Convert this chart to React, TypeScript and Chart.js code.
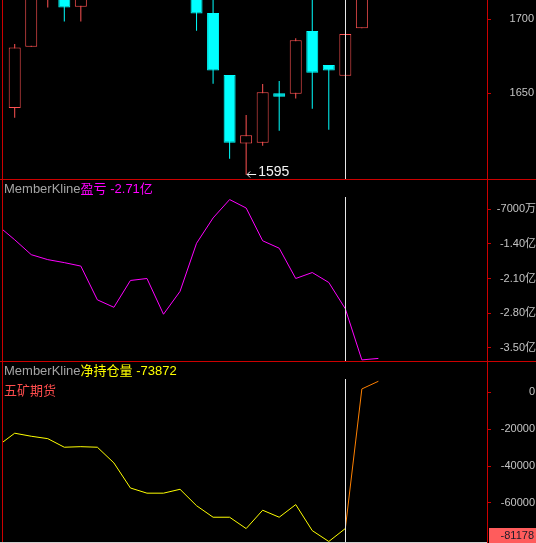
import React, { useEffect, useRef } from "react";
import { Chart, registerables } from "chart.js";

Chart.register(...registerables);

// ---------------- data ----------------
const CANDLE_X = [0, 1, 2, 3, 4, 5, 6, 7, 8, 9, 10, 11, 12, 13, 14, 15, 16, 17, 18, 19, 20, 21, 22];
const OPEN = [1640.0, 1681.5, 1716.0, 1722.0, 1708.5, 1724.0, 1740.0, 1735.0, 1755.0, 1742.0, 1733.0, 1722.0, 1704.3, 1662.4, 1616.0, 1616.6, 1650.0, 1649.7, 1692.1, 1669.1, 1661.9, 1693.9, 1722.0];
const HIGH = [1683.3, 1735.0, 1738.0, 1726.0, 1730.0, 1745.0, 1752.0, 1760.0, 1765.0, 1750.0, 1738.0, 1728.0, 1716.0, 1662.4, 1635.3, 1656.3, 1658.3, 1687.2, 1716.0, 1669.1, 1690.1, 1728.0, 1735.0];
const LOW = [1633.5, 1681.5, 1708.0, 1698.4, 1698.4, 1718.0, 1730.0, 1728.0, 1738.0, 1726.0, 1714.0, 1692.3, 1656.5, 1605.8, 1595.0, 1614.6, 1624.7, 1646.4, 1639.6, 1625.4, 1661.9, 1693.9, 1716.0];
const CLOSE = [1681.0, 1728.0, 1732.0, 1708.0, 1724.0, 1740.0, 1735.0, 1755.0, 1742.0, 1733.0, 1720.0, 1703.8, 1665.3, 1616.6, 1621.6, 1650.7, 1647.7, 1685.8, 1663.9, 1665.3, 1690.1, 1722.0, 1730.0];

const LINE_X = [-1, 0, 1, 2, 3, 4, 5, 6, 7, 8, 9, 10, 11, 12, 13, 14, 15, 16, 17, 18, 19, 20, 21, 22];
// 盈亏 (亿)
const PROFIT = [-1.04, -1.32, -1.62, -1.72, -1.78, -1.85, -2.53, -2.68, -2.14, -2.10, -2.82, -2.36, -1.39, -0.88, -0.51, -0.68, -1.34, -1.49, -2.10, -1.98, -2.18, -2.71, -3.74, -3.71];
// 净持仓量
const NETPOS = [-28900, -22200, -23850, -25150, -29800, -29500, -29800, -38300, -51900, -54700, -54700, -52600, -61500, -67750, -67750, -73900, -63950, -67750, -60900, -75000, -80900, -73872, 1800, 5960];

const CROSS_INDEX = 20;

const X_MIN = -0.708;
const X_MAX = 28.57;

const P1_MIN = 1592.1;
const P1_MAX = 1713.0;
const P1_TICKS = [1650, 1700];
const P1_LABELS = ["1650", "1700"];

const P2_MIN = -3.762;
const P2_MAX = -0.0956;
const P2_TICKS = [-0.7, -1.4, -2.1, -2.8, -3.5];
const P2_LABELS = ["-7000万", "-1.40亿", "-2.10亿", "-2.80亿", "-3.50亿"];

const P3_MIN = -81178;
const P3_MAX = 16950;
const P3_TICKS = [0, -20000, -40000, -60000];
const P3_LABELS = ["0", "-20000", "-40000", "-60000"];

// ---------------- styles ----------------
const CANVAS_W = 540;
const PLOT_RIGHT = 487;
const RED_LINE = "#cc0000";
const UP = "#ff5252";
const DOWN = "#00ffff";
const MAGENTA = "#ff00ff";
const YELLOW = "#ffff00";
const ORANGE = "#ff8000";
const TICK_COLOR = "#c4c4c4";
const CROSS_COLOR = "#e8e8e8";
const FONT = "'Liberation Sans', 'Noto Sans CJK SC', sans-serif";

function xScale() {
  return { type: "linear", display: false, min: X_MIN, max: X_MAX, offset: false, grid: { display: false } };
}

function yAxis(min: number, max: number, values: number[], labels: string[], labelRight: number) {
  return {
    type: "linear",
    position: "right",
    min,
    max,
    bounds: "data",
    beginAtZero: false,
    afterBuildTicks: (s: any) => {
      s.ticks = values.map((v) => ({ value: v }));
    },
    afterFit: (s: any) => {
      s.width = labelRight - PLOT_RIGHT;
      s.paddingTop = 0;
      s.paddingBottom = 0;
    },
    border: { display: true, color: RED_LINE, width: 1 },
    grid: { display: true, drawOnChartArea: false, drawTicks: true, tickLength: 4, color: RED_LINE },
    ticks: {
      color: TICK_COLOR,
      font: { family: FONT, size: 11 },
      padding: 4,
      crossAlign: "far",
      autoSkip: false,
      callback: (_v: any, i: number) => labels[i],
    },
  };
}

function common(bottomPad: number, labelRight: number) {
  return {
    responsive: false,
    animation: false,
    events: [],
    plugins: { legend: { display: false }, tooltip: { enabled: false } },
    layout: { padding: { left: 3, right: CANVAS_W - labelRight, top: 0, bottom: bottomPad } },
  };
}

function crosshair(topOffset: number) {
  return {
    id: "crosshair",
    afterDatasetsDraw(chart: any) {
      const { ctx, chartArea } = chart;
      const x = Math.round(chart.scales.x.getPixelForValue(CROSS_INDEX)) + 0.5;
      ctx.save();
      ctx.strokeStyle = CROSS_COLOR;
      ctx.lineWidth = 1;
      ctx.beginPath();
      ctx.moveTo(x, chartArea.top + topOffset);
      ctx.lineTo(x, chartArea.bottom);
      ctx.stroke();
      ctx.restore();
    },
  };
}

const lowMarker = {
  id: "lowMarker",
  afterDatasetsDraw(chart: any) {
    const xs = chart.scales.x;
    const ys = chart.scales.y;
    let idx = -1;
    CANDLE_X.forEach((x, i) => {
      if (x >= xs.min && x <= xs.max && (idx < 0 || LOW[i] < LOW[idx])) idx = i;
    });
    if (idx < 0) return;
    const px = xs.getPixelForValue(CANDLE_X[idx]);
    const py = ys.getPixelForValue(LOW[idx]);
    const { ctx } = chart;
    const y = Math.round(py) - 0.5;
    ctx.save();
    ctx.strokeStyle = "#f4f4f4";
    ctx.lineWidth = 1;
    ctx.beginPath();
    ctx.moveTo(px + 1, y);
    ctx.lineTo(px + 10, y);
    ctx.moveTo(px + 1, y);
    ctx.lineTo(px + 4, y - 3);
    ctx.moveTo(px + 1, y);
    ctx.lineTo(px + 4, y + 3);
    ctx.stroke();
    ctx.fillStyle = "#f4f4f4";
    ctx.font = `14px ${FONT}`;
    ctx.textBaseline = "middle";
    ctx.textAlign = "left";
    ctx.fillText(String(LOW[idx]), px + 12, py - 3);
    ctx.restore();
  },
};

const minBox = {
  id: "minBox",
  afterDraw(chart: any) {
    const { ctx, chartArea } = chart;
    const x0 = chartArea.right + 2;
    const y0 = chartArea.bottom - 14;
    ctx.save();
    ctx.fillStyle = "#ff5c5c";
    ctx.fillRect(x0, y0, chart.width - x0, chart.height - y0);
    ctx.fillStyle = "#1c1c28";
    ctx.font = `11px ${FONT}`;
    ctx.textAlign = "right";
    ctx.textBaseline = "middle";
    ctx.fillText(String(chart.scales.y.min), 534, y0 + 8);
    ctx.restore();
  },
};

function buildCandles() {
  const up = CANDLE_X.map((_, i) => CLOSE[i] >= OPEN[i]);
  return {
    type: "bar",
    data: {
      datasets: [
        {
          label: "body",
          order: 0,
          data: CANDLE_X.map((x, i) => ({ x, y: [OPEN[i], CLOSE[i]] })),
          backgroundColor: up.map((u) => (u ? "#000000" : DOWN)),
          borderColor: up.map((u) => (u ? UP : DOWN)),
          borderWidth: 1,
          borderSkipped: false,
          barThickness: 12,
          grouped: false,
          inflateAmount: 0,
        },
        {
          label: "wick",
          order: 1,
          data: CANDLE_X.map((x, i) => ({ x, y: [LOW[i], HIGH[i]] })),
          backgroundColor: up.map((u) => (u ? UP : DOWN)),
          borderWidth: 0,
          barThickness: 1,
          grouped: false,
          inflateAmount: 0,
        },
      ],
    },
    options: {
      ...common(0, 534),
      scales: { x: xScale(), y: yAxis(P1_MIN, P1_MAX, P1_TICKS, P1_LABELS, 534) },
    },
    plugins: [crosshair(0), lowMarker],
  };
}

function buildProfit() {
  return {
    type: "line",
    data: {
      datasets: [
        {
          label: "盈亏",
          data: LINE_X.map((x, i) => ({ x, y: PROFIT[i] })),
          borderColor: MAGENTA,
          borderWidth: 1,
          pointRadius: 0,
          tension: 0,
          fill: false,
        },
      ],
    },
    options: {
      ...common(0, 536),
      scales: { x: xScale(), y: yAxis(P2_MIN, P2_MAX, P2_TICKS, P2_LABELS, 536) },
    },
    plugins: [crosshair(18)],
  };
}

function buildNetPos() {
  return {
    type: "line",
    data: {
      datasets: [
        {
          label: "净持仓量",
          data: LINE_X.map((x, i) => ({ x, y: NETPOS[i] })),
          borderColor: YELLOW,
          segment: {
            borderColor: (ctx: any) => (LINE_X[ctx.p0DataIndex] >= CROSS_INDEX ? ORANGE : YELLOW),
          },
          borderWidth: 1,
          pointRadius: 0,
          tension: 0,
          fill: false,
        },
      ],
    },
    options: {
      ...common(1, 535),
      scales: { x: xScale(), y: yAxis(P3_MIN, P3_MAX, P3_TICKS, P3_LABELS, 535) },
    },
    plugins: [crosshair(18), minBox],
  };
}

function ChartCanvas({ top, height, build }: { top: number; height: number; build: () => any }) {
  const ref = useRef<HTMLCanvasElement | null>(null);
  useEffect(() => {
    if (!ref.current) return;
    const chart = new Chart(ref.current, build());
    return () => chart.destroy();
  }, []);
  return (
    <canvas
      ref={ref}
      width={CANVAS_W}
      height={height}
      style={{ position: "absolute", left: 0, top, width: CANVAS_W, height, display: "block" }}
    />
  );
}

function rule(left: number, top: number, width: number, height: number, color: string): React.CSSProperties {
  return { position: "absolute", left, top, width, height, background: color, zIndex: 2 };
}

export default function App() {
  const crossPos = LINE_X.indexOf(CROSS_INDEX);
  const profitText = `${PROFIT[crossPos].toFixed(2)}亿`;
  const netText = `${NETPOS[crossPos]}`;
  const titleStyle: React.CSSProperties = {
    position: "absolute",
    left: 4,
    font: `13px ${FONT}`,
    lineHeight: "16px",
    whiteSpace: "nowrap",
    zIndex: 3,
  };
  return (
    <div
      style={{
        position: "fixed",
        left: 0,
        top: 0,
        width: 536,
        height: 543,
        overflow: "hidden",
        background: "#000",
      }}
    >
      <ChartCanvas top={0} height={179} build={buildCandles} />
      <ChartCanvas top={179} height={182} build={buildProfit} />
      <ChartCanvas top={361} height={182} build={buildNetPos} />
      <div style={rule(0, 179, 536, 1, RED_LINE)} />
      <div style={rule(0, 361, 536, 1, RED_LINE)} />
      <div style={rule(2, 0, 1, 543, RED_LINE)} />
      <div style={rule(0, 542, 487, 1, "#d0d0d0")} />
      <div style={{ ...titleStyle, top: 181 }}>
        <span style={{ color: "#a4a4a4" }}>MemberKline</span>
        <span style={{ color: MAGENTA }}>盈亏 {profitText}</span>
      </div>
      <div style={{ ...titleStyle, top: 363 }}>
        <span style={{ color: "#a4a4a4" }}>MemberKline</span>
        <span style={{ color: YELLOW }}>净持仓量 {netText}</span>
      </div>
      <div style={{ ...titleStyle, top: 383, color: "#ff4d4d" }}>五矿期货</div>
    </div>
  );
}
